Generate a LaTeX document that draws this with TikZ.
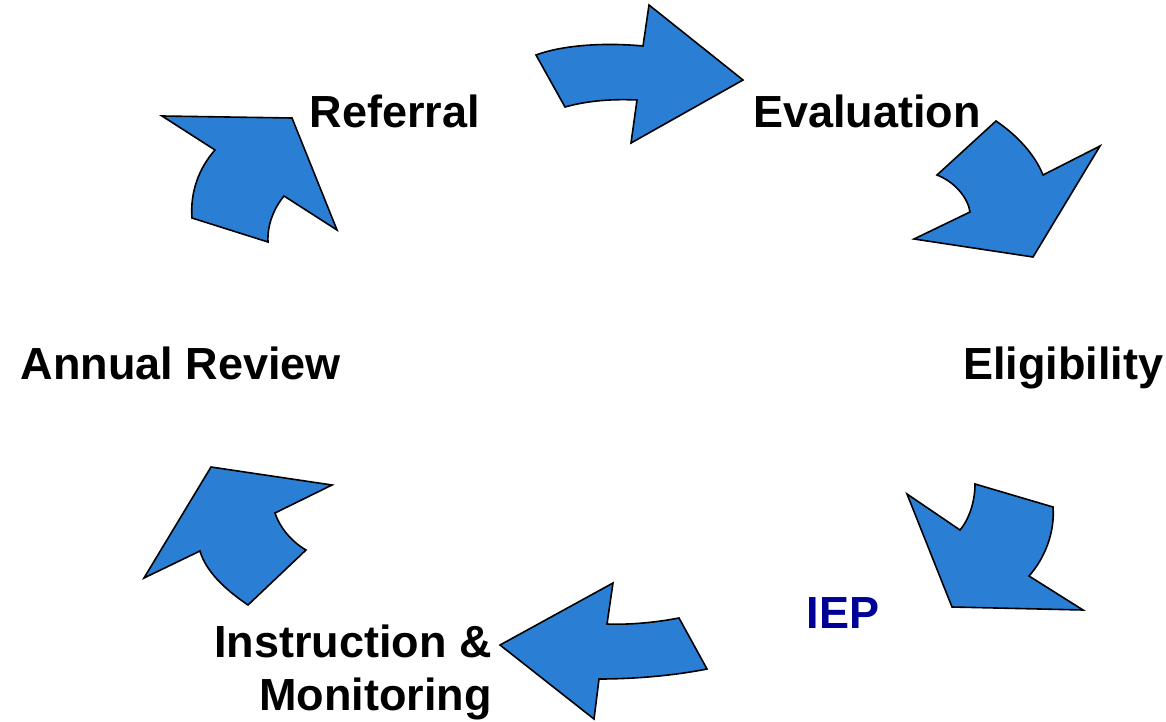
\documentclass[tikz,border=0pt]{standalone}
\usepackage{fontspec}
\setmainfont{Liberation Sans}
\usepackage{xcolor}
\usepackage{tikz}
\usetikzlibrary{positioning}
\definecolor{cycleblue}{RGB}{42,127,213}
\definecolor{iepnavy}{RGB}{0,0,150}

\begin{document}
\begin{tikzpicture}[x=1pt, y=-1pt,
    stage/.style={font=\fontsize{45}{53}\selectfont\bfseries, inner sep=0pt, anchor=base},
    flow/.style={fill=cycleblue, draw=black, line width=1.6pt, line join=miter},
]
    \useasboundingbox (0,0) rectangle (1166,722);

    % stage labels
    \node[stage] (ref) at (395,128) {Referral};
    \node[stage] (eval) at (867,128) {Evaluation};
    \node[stage] (elig) at (1063,379) {Eligibility};
    \node[stage] (iep) at (843,628) [text=iepnavy] {IEP};
    \node[stage, anchor=base east, align=right] (instr) at (492,710) {Instruction \&\\Monitoring};
    \node[stage] (annual) at (181,379) {Annual Review};

    % Referral -> Evaluation
    \draw[flow] (536,55) -- (565,107) .. controls (590,100) and (615,99) .. (637,100)
        -- (631,143) -- (743,80) -- (649,5) -- (643,46)
        .. controls (600,42) and (560,46) .. cycle;
    % Evaluation -> Eligibility
    \draw[flow] (996,121) .. controls (1018,136) and (1035,155) .. (1043,175)
        -- (1100,146) -- (1033,257) -- (914,239) -- (970,212)
        .. controls (968,198) and (955,182) .. (937,175) -- cycle;
    % Eligibility -> IEP
    \draw[flow] (975,484) -- (1053,507) .. controls (1055,532) and (1045,558) .. (1029,576)
        -- (1083,610) -- (952,607) -- (907,494) -- (960,530)
        .. controls (970,518) and (975,500) .. cycle;
    % IEP -> Instruction & Monitoring
    \draw[flow] (613,583) -- (607,624) .. controls (632,625) and (658,622) .. (679,618)
        -- (707,669) .. controls (672,676) and (632,679) .. (599,679)
        -- (594,719) -- (500,645) -- cycle;
    % Instruction & Monitoring -> Annual Review
    \draw[flow] (211,467) -- (332,485) -- (275,513)
        .. controls (280,528) and (292,542) .. (306,550)
        -- (248,605) .. controls (226,590) and (206,572) .. (200,551)
        -- (144,578) -- cycle;
    % Annual Review -> Referral
    \draw[flow] (162,116) -- (292,118) -- (337,230) -- (284,196)
        .. controls (274,208) and (267,225) .. (268,242)
        -- (192,218) .. controls (190,192) and (199,168) .. (215,150) -- cycle;
\end{tikzpicture}
\end{document}
